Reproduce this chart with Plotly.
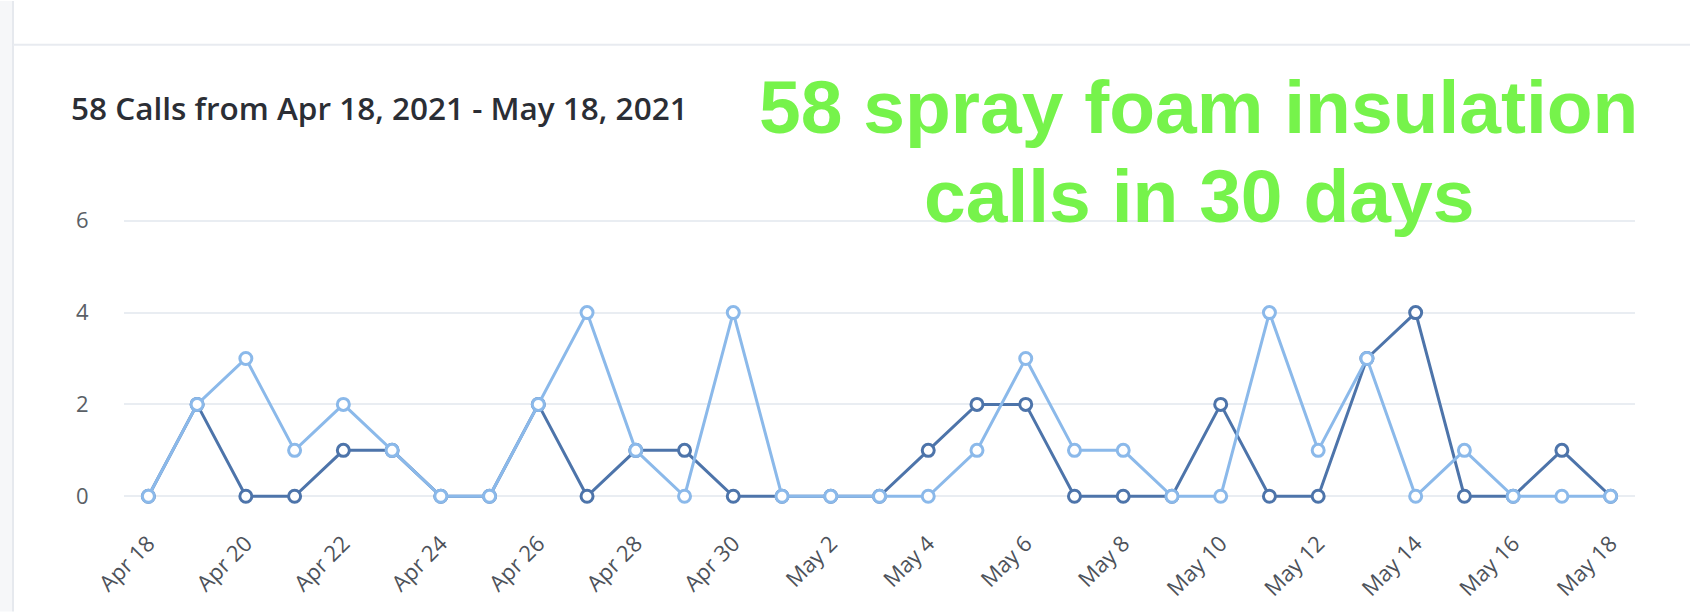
import plotly.graph_objects as go

dates = [
    "2021-04-18", "2021-04-19", "2021-04-20", "2021-04-21", "2021-04-22", "2021-04-23",
    "2021-04-24", "2021-04-25", "2021-04-26", "2021-04-27", "2021-04-28", "2021-04-29",
    "2021-04-30", "2021-05-01", "2021-05-02", "2021-05-03", "2021-05-04", "2021-05-05",
    "2021-05-06", "2021-05-07", "2021-05-08", "2021-05-09", "2021-05-10", "2021-05-11",
    "2021-05-12", "2021-05-13", "2021-05-14", "2021-05-15", "2021-05-16", "2021-05-17",
    "2021-05-18",
]
dark_calls = [0, 2, 0, 0, 1, 1, 0, 0, 2, 0, 1, 1, 0,
              0, 0, 0, 1, 2, 2, 0, 0, 0, 2, 0, 0, 3, 4, 0, 0, 1, 0]
light_calls = [0, 2, 3, 1, 2, 1, 0, 0, 2, 4, 1, 0, 4,
               0, 0, 0, 0, 1, 3, 1, 1, 0, 0, 4, 1, 3, 0, 1, 0, 0, 0]

tick_dates = ["2021-04-18", "2021-04-20", "2021-04-22", "2021-04-24", "2021-04-26",
              "2021-04-28", "2021-04-30", "2021-05-02", "2021-05-04", "2021-05-06",
              "2021-05-08", "2021-05-10", "2021-05-12", "2021-05-14", "2021-05-16",
              "2021-05-18"]
tick_labels = ["Apr 18", "Apr 20", "Apr 22", "Apr 24", "Apr 26", "Apr 28", "Apr 30",
               "May 2", "May 4", "May 6", "May 8", "May 10", "May 12", "May 14",
               "May 16", "May 18"]
y_ticks = [0, 2, 4, 6]

title_text = "58 Calls from Apr 18, 2021 - May 18, 2021"
promo_line1 = "58 spray foam insulation"
promo_line2 = "calls in 30 days"

W, H = 1690, 614
Y_LO, Y_HI = -0.06, 6.06
# pixel rows of y=0 and y=6 in the reference
P0, P6 = 498, 221
UNIT = (P0 - P6) / 6.0
L, R = 124, 1635
T = P6 - (Y_HI - 6) * UNIT
B = P0 + (0 - Y_LO) * UNIT
PW, PH = R - L, B - T


def px(x):
    return (x - L) / PW


def py(y):
    return (B - y) / PH


DARK = "#4d74aa"
LIGHT = "#8bb9ea"

fig = go.Figure()
for vals, col in ((dark_calls, DARK), (light_calls, LIGHT)):
    fig.add_trace(go.Scatter(
        x=dates, y=vals, mode="lines+markers",
        line=dict(color=col, width=3),
        marker=dict(symbol="circle", size=12, color="white",
                    line=dict(color=col, width=3)),
        cliponaxis=False, showlegend=False,
    ))

shapes = [
    dict(type="rect", xref="paper", yref="paper", x0=px(0), x1=px(12), y0=py(0), y1=py(H),
         fillcolor="#f6f7f9", line=dict(width=0), layer="below"),
    dict(type="line", xref="paper", yref="paper", x0=px(13), x1=px(13), y0=py(0), y1=py(H),
         line=dict(color="#e6e9ee", width=2), layer="below"),
    dict(type="line", xref="paper", yref="paper", x0=px(13), x1=px(W), y0=py(44), y1=py(44),
         line=dict(color="#e8ebf0", width=2), layer="below"),
]

annotations = [
    dict(text=title_text, xref="paper", yref="paper", x=px(69), y=py(107),
         xanchor="left", yanchor="middle", showarrow=False,
         font=dict(family="Open Sans", size=31.5, color="#2b2e35", weight=600)),
    dict(text="<b>" + promo_line1 + "</b>", xref="paper", yref="paper", x=px(1198), y=py(107),
         xanchor="center", yanchor="middle", showarrow=False,
         font=dict(family="Liberation Sans", size=75, color="#76f34b")),
    dict(text="<b>" + promo_line2 + "</b>", xref="paper", yref="paper", x=px(1199), y=py(196),
         xanchor="center", yanchor="middle", showarrow=False,
         font=dict(family="Liberation Sans", size=75, color="#76f34b")),
]

fig.update_layout(
    width=W, height=H,
    margin=dict(l=L, r=W - R, t=T, b=H - B, pad=0),
    paper_bgcolor="white", plot_bgcolor="white",
    shapes=shapes, annotations=annotations,
    font=dict(family="Open Sans"),
    xaxis=dict(
        type="date", range=["2021-04-17 12:00", "2021-05-18 12:00"],
        tickmode="array", tickvals=tick_dates, ticktext=tick_labels,
        tickangle=-45, ticks="outside", ticklen=22, tickcolor="rgba(0,0,0,0)",
        tickfont=dict(size=22, color="#4d525a"),
        showgrid=False, zeroline=False, showline=False,
    ),
    yaxis=dict(
        range=[Y_LO, Y_HI], tickmode="array", tickvals=y_ticks,
        ticks="outside", ticklen=30, tickcolor="rgba(0,0,0,0)",
        tickfont=dict(size=22, color="#5a5f66"),
        showgrid=True, gridcolor="#e9edf2", gridwidth=2,
        zeroline=False, showline=False,
    ),
)

fig.write_html(
    "out.html",
    config={"displayModeBar": False},
    post_script="document.body.style.margin='0';document.body.style.overflow='hidden';",
)
